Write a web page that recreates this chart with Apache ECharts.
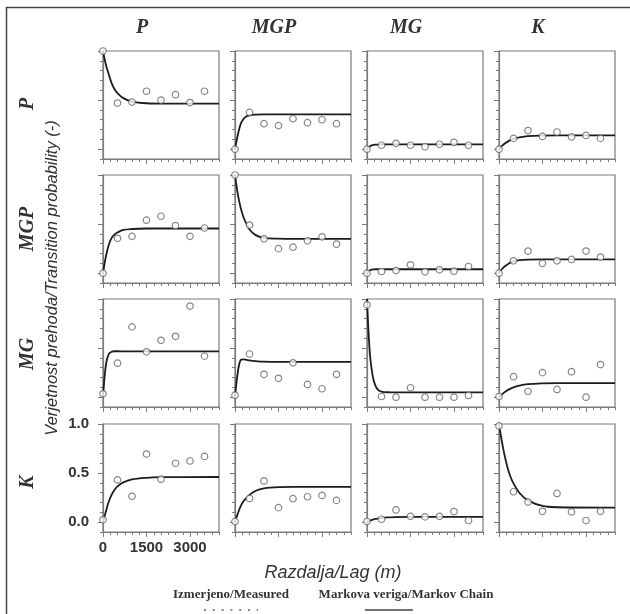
<!DOCTYPE html>
<html>
<head>
<meta charset="utf-8">
<script src="https://cdn.jsdelivr.net/npm/echarts@6/dist/echarts.min.js"></script>
<style>
html,body{margin:0;padding:0;background:#fff;}
#chart{width:630px;height:614px;}
</style>
</head>
<body>
<div id="chart"></div>
<script>
// ---- data ----
const categories = ['P', 'MGP', 'MG', 'K'];
const lags = [0, 500, 1000, 1500, 2000, 2500, 3000, 3500];
const curveLags = [0, 100, 200, 300, 400, 500, 700, 1000, 1500, 2000, 4000];
const yTickLabels = [0, 0.5, 1.0];
const xTickLabels = [0, 1500, 3000];

// measured (Izmerjeno) and Markov chain curves, row = from, column = to
const m_P_P = [1.0, 0.47, 0.48, 0.59, 0.50, 0.555, 0.475, 0.59];
const c_P_P = [1.0, 0.86, 0.76, 0.67, 0.61, 0.57, 0.52, 0.485, 0.468, 0.465, 0.465];
const m_P_MGP = [0.0, 0.375, 0.26, 0.24, 0.31, 0.27, 0.30, 0.26];
const c_P_MGP = [0, 0.15, 0.26, 0.31, 0.335, 0.345, 0.352, 0.355, 0.355, 0.355, 0.355];
const m_P_MG = [0.0, 0.04, 0.06, 0.04, 0.025, 0.05, 0.07, 0.04];
const c_P_MG = [0, 0.03, 0.042, 0.046, 0.047, 0.048, 0.048, 0.048, 0.048, 0.048, 0.048];
const m_P_K = [0.0, 0.11, 0.19, 0.13, 0.175, 0.125, 0.14, 0.11];
const c_P_K = [0, 0.033, 0.058, 0.077, 0.092, 0.105, 0.12, 0.132, 0.138, 0.14, 0.14];

const m_MGP_P = [0.0, 0.355, 0.375, 0.54, 0.58, 0.485, 0.375, 0.46];
const c_MGP_P = [0, 0.17, 0.29, 0.36, 0.395, 0.415, 0.44, 0.45, 0.455, 0.455, 0.455];
const m_MGP_MGP = [1.0, 0.49, 0.35, 0.25, 0.265, 0.33, 0.37, 0.295];
const c_MGP_MGP = [1.0, 0.8, 0.66, 0.565, 0.5, 0.445, 0.39, 0.36, 0.352, 0.35, 0.35];
const m_MGP_MG = [0.0, 0.017, 0.027, 0.085, 0.014, 0.034, 0.02, 0.068];
const c_MGP_MG = [0, 0.03, 0.038, 0.04, 0.04, 0.04, 0.04, 0.04, 0.04, 0.04, 0.04];
const m_MGP_K = [0.0, 0.126, 0.225, 0.10, 0.126, 0.14, 0.225, 0.164];
const c_MGP_K = [0, 0.04, 0.07, 0.09, 0.11, 0.12, 0.132, 0.138, 0.14, 0.14, 0.14];

const m_MG_P = [0.034, 0.346, 0.716, 0.462, 0.579, 0.62, 0.928, 0.418];
const c_MG_P = [0, 0.33, 0.44, 0.463, 0.468, 0.468, 0.467, 0.466, 0.466, 0.466, 0.466];
const m_MG_MGP = [0.02, 0.44, 0.233, 0.192, 0.35, 0.13, 0.086, 0.233];
const c_MG_MGP = [0, 0.26, 0.38, 0.385, 0.38, 0.375, 0.368, 0.362, 0.36, 0.36, 0.36];
const m_MG_MG = [0.94, 0.007, 0.0, 0.096, 0.0, 0.0, 0.0, 0.017];
const c_MG_MG = [1.0, 0.44, 0.21, 0.11, 0.07, 0.057, 0.05, 0.048, 0.048, 0.048, 0.048];
const m_MG_K = [0.007, 0.209, 0.058, 0.25, 0.079, 0.26, 0.0, 0.332];
const c_MG_K = [0, 0.028, 0.052, 0.072, 0.087, 0.099, 0.117, 0.132, 0.141, 0.144, 0.144];

const m_K_P = [0.024, 0.43, 0.263, 0.694, 0.438, 0.6, 0.623, 0.67];
const c_K_P = [0, 0.11, 0.21, 0.28, 0.33, 0.365, 0.405, 0.435, 0.452, 0.458, 0.46];
const m_K_MGP = [0.007, 0.242, 0.42, 0.148, 0.239, 0.259, 0.273, 0.222];
const c_K_MGP = [0, 0.09, 0.165, 0.215, 0.25, 0.278, 0.318, 0.345, 0.358, 0.36, 0.36];
const m_K_MG = [0.007, 0.03, 0.125, 0.06, 0.054, 0.06, 0.108, 0.017];
const c_K_MG = [0, 0.014, 0.025, 0.033, 0.038, 0.043, 0.049, 0.052, 0.054, 0.054, 0.054];
const m_K_K = [0.98, 0.31, 0.205, 0.111, 0.293, 0.104, 0.017, 0.111];
const c_K_K = [1.0, 0.82, 0.67, 0.55, 0.46, 0.395, 0.30, 0.222, 0.165, 0.152, 0.148];

const measuredRows = [
  [m_P_P, m_P_MGP, m_P_MG, m_P_K],
  [m_MGP_P, m_MGP_MGP, m_MGP_MG, m_MGP_K],
  [m_MG_P, m_MG_MGP, m_MG_MG, m_MG_K],
  [m_K_P, m_K_MGP, m_K_MG, m_K_K]
];
const curveRows = [
  [c_P_P, c_P_MGP, c_P_MG, c_P_K],
  [c_MGP_P, c_MGP_MGP, c_MGP_MG, c_MGP_K],
  [c_MG_P, c_MG_MGP, c_MG_MG, c_MG_K],
  [c_K_P, c_K_MGP, c_K_MG, c_K_K]
];

// ---- layout ----
const colLeft = [103, 235, 367, 499];
const rowTop = [51, 175, 299, 424];
const PW = 116, PH = 108;
const AX = '#7a7a7a';
const TXT = '#333';

const grids = [], xAxes = [], yAxes = [], series = [];
let g = 0;
for (let r = 0; r < 4; r++) {
  for (let c = 0; c < 4; c++) {
    const showLab = (r === 3 && c === 0);
    grids.push({left: colLeft[c], top: rowTop[r], width: PW, height: PH,
      show: true, borderColor: AX, borderWidth: 1.2, backgroundColor: '#fff'});
    // minor ticks axis
    xAxes.push({type: 'value', gridIndex: g, position: 'bottom', min: 0, max: 4000, interval: 250,
      axisLine: {show: true, onZero: false, lineStyle: {color: AX, width: 1.2}},
      axisTick: {show: true, inside: false, length: 3, lineStyle: {color: AX}},
      axisLabel: {show: false}, splitLine: {show: false}});
    // major ticks axis
    xAxes.push({type: 'value', gridIndex: g, position: 'bottom', offset: 0, min: 0, max: 4000,
      axisLine: {show: false, onZero: false},
      axisTick: {show: true, length: 5, customValues: xTickLabels, lineStyle: {color: AX}},
      axisLabel: {show: showLab, customValues: xTickLabels, margin: 8,
        color: TXT, fontFamily: 'Liberation Sans', fontWeight: 'bold', fontSize: 15,
        formatter: v => String(Math.round(v))},
      splitLine: {show: false}});
    yAxes.push({type: 'value', gridIndex: g, position: 'left', min: -0.1, max: 1.0, interval: 0.1,
      axisLine: {show: true, onZero: false, lineStyle: {color: AX, width: 1.2}},
      axisTick: {show: true, inside: false, length: 3, lineStyle: {color: AX}},
      axisLabel: {show: false}, splitLine: {show: false}});
    yAxes.push({type: 'value', gridIndex: g, position: 'left', offset: 0, min: -0.1, max: 1.0,
      axisLine: {show: false, onZero: false},
      axisTick: {show: true, length: 5, customValues: yTickLabels, lineStyle: {color: AX}},
      axisLabel: {show: showLab, customValues: yTickLabels, margin: 14,
        color: TXT, fontFamily: 'Liberation Sans', fontWeight: 'bold', fontSize: 15,
        formatter: v => v.toFixed(1)},
      splitLine: {show: false}});
    series.push({type: 'line', xAxisIndex: 2 * g, yAxisIndex: 2 * g,
      data: curveLags.map((x, i) => [x, curveRows[r][c][i]]),
      smooth: 0.35, showSymbol: false, symbol: 'none',
      lineStyle: {color: '#1c1c1c', width: 1.8}, z: 3, silent: true});
    series.push({type: 'scatter', xAxisIndex: 2 * g, yAxisIndex: 2 * g,
      data: lags.map((x, i) => [x, measuredRows[r][c][i]]),
      symbol: 'circle', symbolSize: 6.5, clip: false,
      itemStyle: {color: '#fff', borderColor: '#666', borderWidth: 1.2}, z: 4, silent: true});
    g++;
  }
}

const graphics = [];
// outer frame (left and top edges)
graphics.push({type: 'polyline', shape: {points: [[6.5, 660], [6.5, 7.5], [660, 7.5]]},
  style: {stroke: '#444', lineWidth: 1.5, fill: null}});
// column titles
for (let c = 0; c < 4; c++) {
  graphics.push({type: 'text', x: colLeft[c] + 39, y: 28,
    style: {text: categories[c], textAlign: 'center', textVerticalAlign: 'middle',
      font: 'italic bold 20px "Liberation Serif"', fill: TXT}});
}
// row labels
const rowLabY = [104, 229, 354, 482];
for (let r = 0; r < 4; r++) {
  graphics.push({type: 'text', x: 28, y: rowLabY[r], rotation: Math.PI / 2,
    style: {text: categories[r], textAlign: 'center', textVerticalAlign: 'middle',
      font: 'italic bold 20px "Liberation Serif"', fill: TXT}});
}
// y axis title
graphics.push({type: 'text', x: 52, y: 278, rotation: Math.PI / 2,
  style: {text: 'Verjetnost prehoda/Transition probability (-)', textAlign: 'center', textVerticalAlign: 'middle',
    font: 'italic 16.5px "Liberation Sans"', fill: TXT}});
// x axis title
graphics.push({type: 'text', x: 333, y: 573,
  style: {text: 'Razdalja/Lag (m)', textAlign: 'center', textVerticalAlign: 'middle',
    font: 'italic 18px "Liberation Sans"', fill: TXT}});
// legend
graphics.push({type: 'text', x: 231, y: 595,
  style: {text: 'Izmerjeno/Measured', textAlign: 'center', textVerticalAlign: 'middle',
    font: 'bold 13px "Liberation Serif"', fill: TXT}});
graphics.push({type: 'text', x: 406, y: 595,
  style: {text: 'Markova veriga/Markov Chain', textAlign: 'center', textVerticalAlign: 'middle',
    font: 'bold 13px "Liberation Serif"', fill: TXT}});
graphics.push({type: 'line', shape: {x1: 204, y1: 610, x2: 258, y2: 610},
  style: {stroke: '#888', lineWidth: 2, lineDash: [2, 6.8]}});
graphics.push({type: 'line', shape: {x1: 365, y1: 610, x2: 413, y2: 610},
  style: {stroke: '#444', lineWidth: 1.5}});

const chart = echarts.init(document.getElementById('chart'), null, {renderer: 'canvas'});
chart.setOption({
  animation: false,
  backgroundColor: '#fff',
  grid: grids,
  xAxis: xAxes,
  yAxis: yAxes,
  series: series,
  graphic: {elements: graphics}
});
</script>
</body>
</html>
